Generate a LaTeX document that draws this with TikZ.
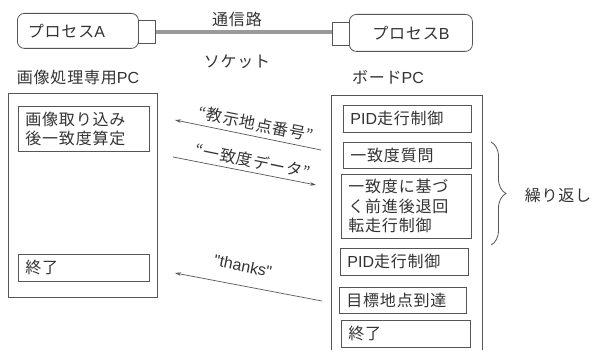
\documentclass[tikz,border=0pt]{standalone}
\usepackage{fontspec}
\newfontfamily\jp[LetterSpace=5]{Noto Sans CJK JP}
\newfontfamily\lat{Liberation Sans}
\usetikzlibrary{arrows.meta,decorations.pathreplacing}
\definecolor{linec}{HTML}{555555}
\definecolor{textc}{HTML}{333333}
\definecolor{cablec}{HTML}{999999}
\begin{document}
\begin{tikzpicture}[x=1pt,y=-1pt,
  every node/.style={text=textc, font=\jp\fontsize{16}{19.5}\selectfont},
  ibox/.style={draw=linec, line width=0.8pt, anchor=north west, inner xsep=7pt, inner ysep=0pt, align=left},
  bigbox/.style={draw=linec, line width=0.8pt},
  pbox/.style={draw=linec, line width=0.8pt, rounded corners=7pt, anchor=north west, inner ysep=0pt},
  sock/.style={draw=linec, line width=0.8pt, anchor=north west, inner sep=0pt},
  msg/.style={draw=linec, line width=0.7pt, -{Stealth[length=6pt,width=3.5pt]}},
  lbl/.style={rotate=-11.5, inner sep=0pt},
  plain/.style={inner sep=0pt}]
\useasboundingbox (0,0) rectangle (592,350);
\fill[white] (0,0) rectangle (592,350);

% process boxes and cable
\node[pbox, minimum width=121pt, minimum height=35pt, text width=100pt, align=left, inner xsep=10pt] (pa) at (17,13) {プロセス{\lat A}};
\node[sock, minimum width=17pt, minimum height=23pt] (sa) at (138,20) {};
\node[sock, minimum width=17pt, minimum height=23pt] (sb) at (332,22) {};
\node[pbox, minimum width=123pt, minimum height=37pt] (pb) at (349,14) {プロセス{\lat B}};
\draw[cablec, line width=4pt] (sa.east |- 0,32) -- (sb.west |- 0,32);
\node[plain] (tsr) at (237,19) {通信路};
\node[plain] (sock) at (237,62) {ソケット};

% titles
\node[plain] (pcA) at (78,77) {画像処理専用{\lat PC}};
\node[plain] (pcB) at (388,77) {ボード{\lat PC}};

% left big box
\node[bigbox, anchor=north west, minimum width=149pt, minimum height=204pt, inner sep=0pt] (lbig) at (8,93) {};
\node[ibox, minimum width=131pt, minimum height=45pt, text width=117pt] (l1) at (18,106) {画像取り込み\\後一致度算定};
\node[ibox, minimum width=131pt, minimum height=27pt, text width=117pt] (l2) at (18,254) {終了};

% right big box (open at the bottom)
\coordinate (rbl) at (331,352);
\coordinate (rtl) at (331,95);
\coordinate (rtr) at (482,95);
\coordinate (rbr) at (482,352);
\draw[linec, line width=0.8pt] (rbl) -- (rtl) -- (rtr) -- (rbr);
\node[ibox, minimum width=128pt, minimum height=27pt, text width=114pt] (r1) at (343,105) {{\lat PID}走行制御};
\node[ibox, minimum width=128pt, minimum height=26pt, text width=114pt] (r2) at (343,142) {一致度質問};
\node[ibox, minimum width=130pt, minimum height=64pt, text width=116pt] (r3) at (341,174) {一致度に基づ\\く前進後退回\\転走行制御};
\node[ibox, minimum width=128pt, minimum height=27pt, text width=114pt] (r4) at (340,248) {{\lat PID}走行制御};
\node[ibox, minimum width=127pt, minimum height=26pt, text width=113pt] (r5) at (339,287) {目標地点到達};
\node[ibox, minimum width=129pt, minimum height=27pt, text width=115pt] (r6) at (341,320) {終了};

% messages
\coordinate (m1s) at (321,150);
\coordinate (m1e) at (175,120);
\coordinate (m2s) at (173,157);
\coordinate (m2e) at (316,185);
\coordinate (m3s) at (322,301);
\coordinate (m3e) at (175,273);
\draw[msg] (m1s) -- (m1e);
\draw[msg] (m2s) -- (m2e);
\draw[msg] (m3s) -- (m3e);
\node[lbl] (t1) at (256,124) {“教示地点番号”};
\node[lbl] (t2) at (253,161) {“一致度データ”};
\node[lbl] (t3) at (243,266) {\lat "thanks"};

% repetition brace
\coordinate (bt) at (491,142);
\coordinate (bb) at (491,245);
\draw[linec, line width=0.8pt, decorate, decoration={brace, amplitude=15pt}] (bt) -- (bb);
\node[plain] (rep) at (558,195) {繰り返し};
\end{tikzpicture}
\end{document}
